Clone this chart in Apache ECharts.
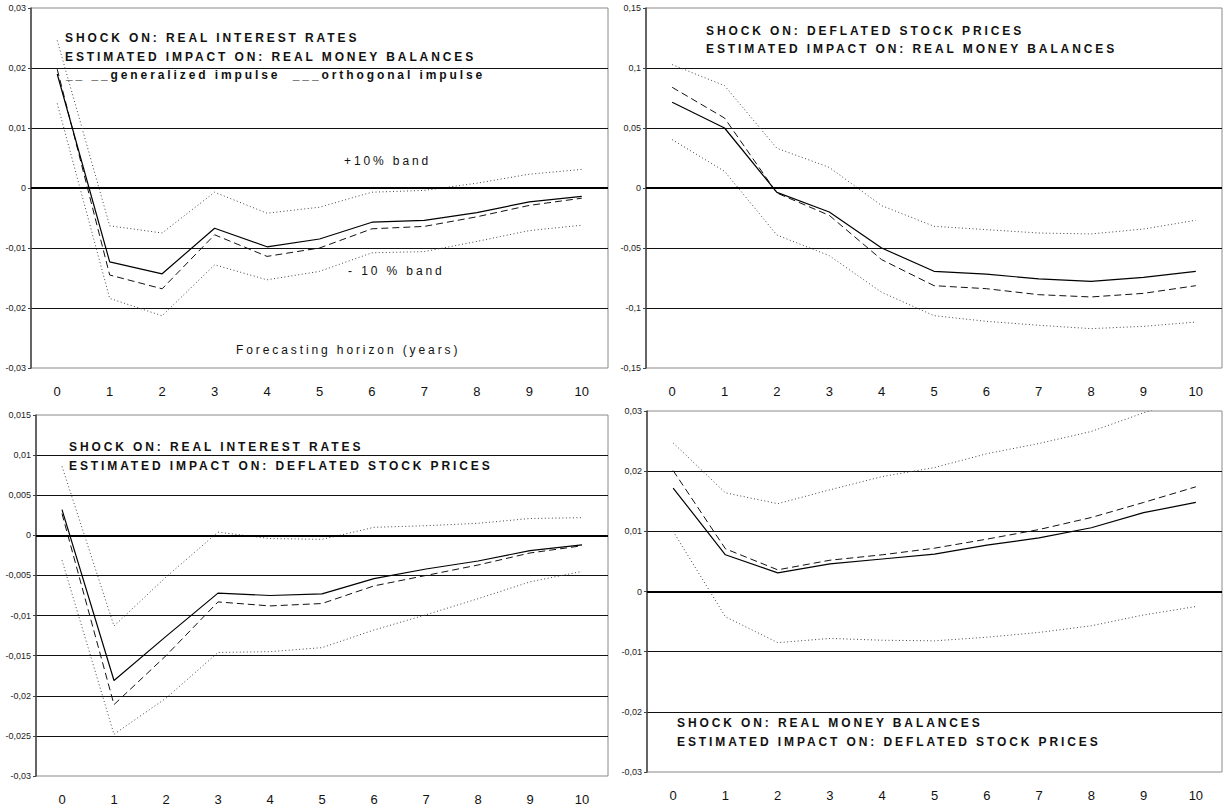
<!DOCTYPE html>
<html>
<head>
<meta charset="utf-8">
<script src="https://cdn.jsdelivr.net/npm/echarts@6/dist/echarts.min.js"></script>
<style>
  html, body { margin: 0; padding: 0; background: #fff; }
  #chart { width: 1223px; height: 810px; }
  #chart svg text[style*="bold"] { letter-spacing: 2.9px; }
  #chart svg text[style*="Liberation"] { letter-spacing: 2.9px; }
</style>
</head>
<body>
<div id="chart"></div>
<script>
// ---- Data ----
const horizons = ['0', '1', '2', '3', '4', '5', '6', '7', '8', '9', '10'];

// Panel 1: shock on real interest rates -> real money balances
const p1Orth = [0.0190, -0.0123, -0.0143, -0.0067, -0.0098, -0.0085, -0.0057, -0.0054, -0.0041, -0.0023, -0.0014];
const p1Gen  = [0.0198, -0.0145, -0.0168, -0.0078, -0.0114, -0.0100, -0.0068, -0.0064, -0.0048, -0.0029, -0.0017];
const p1Up   = [0.0246, -0.0063, -0.0075, -0.0007, -0.0042, -0.0032, -0.0007, -0.0004, 0.0008, 0.0023, 0.0031];
const p1Low  = [0.0141, -0.0184, -0.0213, -0.0128, -0.0153, -0.0139, -0.0108, -0.0106, -0.0089, -0.0071, -0.0062];

// Panel 2: shock on deflated stock prices -> real money balances
const p2Orth = [0.0714, 0.0500, -0.0036, -0.0200, -0.0500, -0.0694, -0.0717, -0.0758, -0.0778, -0.0744, -0.0694];
const p2Gen  = [0.0839, 0.0583, -0.0042, -0.0228, -0.0597, -0.0814, -0.0839, -0.0889, -0.0908, -0.0878, -0.0814];
const p2Up   = [0.1028, 0.0853, 0.0331, 0.0172, -0.0147, -0.0319, -0.0347, -0.0375, -0.0383, -0.0342, -0.0269];
const p2Low  = [0.0403, 0.0139, -0.0392, -0.0564, -0.0869, -0.1064, -0.1111, -0.1144, -0.1172, -0.1153, -0.1117];

// Panel 3: shock on real interest rates -> deflated stock prices
const p3Orth = [0.0032, -0.0181, -0.0126, -0.0072, -0.0075, -0.0073, -0.0054, -0.0042, -0.0032, -0.0019, -0.0012];
const p3Gen  = [0.0027, -0.0211, -0.0150, -0.0083, -0.0088, -0.0085, -0.0063, -0.0050, -0.0037, -0.0022, -0.0013];
const p3Up   = [0.0086, -0.0113, -0.0052, 0.0004, -0.0004, -0.0005, 0.0010, 0.0012, 0.0015, 0.0021, 0.0022];
const p3Low  = [-0.0031, -0.0248, -0.0203, -0.0146, -0.0145, -0.0140, -0.0118, -0.0099, -0.0079, -0.0058, -0.0045];

// Panel 4: shock on real money balances -> deflated stock prices
const p4Orth = [0.0172, 0.0061, 0.0031, 0.0046, 0.0054, 0.0062, 0.0077, 0.0089, 0.0106, 0.0131, 0.0148];
const p4Gen  = [0.0201, 0.0071, 0.0036, 0.0052, 0.0061, 0.0072, 0.0087, 0.0103, 0.0123, 0.0148, 0.0174];
const p4Up   = [0.0247, 0.0164, 0.0146, 0.0169, 0.0191, 0.0206, 0.0229, 0.0246, 0.0266, 0.0297, 0.0325];
const p4Low  = [0.0100, -0.0042, -0.0085, -0.0078, -0.0081, -0.0082, -0.0076, -0.0068, -0.0057, -0.0039, -0.0025];

// Axis ranges
const yMin = [-0.03, -0.15, -0.03, -0.03];
const yMax = [0.03, 0.15, 0.015, 0.03];
const yStep = [0.01, 0.05, 0.005, 0.01];

// Texts
const panelTexts = [
  ['SHOCK ON: REAL INTEREST RATES', 'ESTIMATED IMPACT ON: REAL MONEY BALANCES', '__ __generalized impulse  ___orthogonal impulse'],
  ['SHOCK ON: DEFLATED STOCK PRICES', 'ESTIMATED IMPACT ON: REAL MONEY BALANCES'],
  ['SHOCK ON: REAL INTEREST RATES', 'ESTIMATED IMPACT ON: DEFLATED STOCK PRICES'],
  ['SHOCK ON: REAL MONEY BALANCES', 'ESTIMATED IMPACT ON: DEFLATED STOCK PRICES']
];
const bandUpText = '+10% band';
const bandLowText = '- 10 % band';
const horizonText = 'Forecasting horizon (years)';

// ---- Build chart ----
const panels = [
  [p1Orth, p1Gen, p1Up, p1Low],
  [p2Orth, p2Gen, p2Up, p2Low],
  [p3Orth, p3Gen, p3Up, p3Low],
  [p4Orth, p4Gen, p4Up, p4Low]
];

const gridDefs = [
  { left: 31, top: 8, width: 577, height: 360 },
  { left: 646, top: 8, width: 576, height: 360 },
  { left: 36, top: 415, width: 572, height: 361 },
  { left: 647, top: 411, width: 575, height: 361 }
];

function fmt(v) {
  return String(+v.toFixed(3)).replace('.', ',');
}

const grids = gridDefs.map(g => Object.assign({
  show: true, borderColor: '#8a8a8a', borderWidth: 1, backgroundColor: 'transparent', containLabel: false
}, g));

const xAxes = gridDefs.map((g, i) => ({
  type: 'category', gridIndex: i, data: horizons, boundaryGap: true,
  axisLine: { show: false }, axisTick: { show: false },
  splitLine: { show: false },
  axisLabel: { fontFamily: 'Arial', fontSize: 13, color: '#111', margin: 17 }
}));

const yAxes = gridDefs.map((g, i) => ({
  type: 'value', gridIndex: i, min: yMin[i], max: yMax[i], interval: yStep[i],
  axisLine: { show: true, lineStyle: { color: '#444', width: 1.5 } },
  axisTick: { show: true, length: 3, lineStyle: { color: '#444', width: 1 } },
  axisLabel: { fontFamily: 'Arial', fontSize: 9, color: '#222', margin: 5, formatter: fmt },
  splitLine: { show: true, showMinLine: false, showMaxLine: false, lineStyle: { color: '#111', width: 1 } }
}));

const series = [];
panels.forEach((p, i) => {
  const [orth, gen, up, low] = p;
  const base = { type: 'line', xAxisIndex: i, yAxisIndex: i, symbol: 'none', silent: true, animation: false, clip: true };
  series.push(Object.assign({}, base, { name: 'upper' + i, data: up, lineStyle: { color: '#444', width: 1, type: [1, 2.5] }, z: 3 }));
  series.push(Object.assign({}, base, { name: 'lower' + i, data: low, lineStyle: { color: '#444', width: 1, type: [1, 2.5] }, z: 3 }));
  series.push(Object.assign({}, base, { name: 'gen' + i, data: gen, lineStyle: { color: '#111', width: 1, type: [7, 4] }, z: 4 }));
  series.push(Object.assign({}, base, {
    name: 'orth' + i, data: orth, lineStyle: { color: '#000', width: 1.2, type: 'solid' }, z: 5,
    markLine: {
      silent: true, symbol: ['none', 'none'], label: { show: false },
      lineStyle: { color: '#000', width: 2, type: 'solid' },
      data: [{ yAxis: 0 }], animation: false
    }
  }));
});

const titleFont = 'bold 12px Arial';
const textPos = [
  [[65, 38], [65, 57], [66, 75]],
  [[706, 31], [706, 49]],
  [[69, 447], [69, 466]],
  [[677, 723], [677, 742]]
];
const graphics = [];
panelTexts.forEach((lines, i) => {
  lines.forEach((t, j) => {
    graphics.push({
      type: 'text', x: textPos[i][j][0], y: textPos[i][j][1], z: 100,
      style: { text: t, font: titleFont, fill: '#111', textVerticalAlign: 'middle', textAlign: 'left' }
    });
  });
});
const noteFont = "12px 'Liberation Sans'";
[[bandUpText, 344, 161], [bandLowText, 348, 271], [horizonText, 236, 350]].forEach(([t, x, y]) => {
  graphics.push({
    type: 'text', x: x, y: y, z: 100,
    style: { text: t, font: noteFont, fill: '#111', textVerticalAlign: 'middle', textAlign: 'left' }
  });
});

const chart = echarts.init(document.getElementById('chart'), null, { renderer: 'svg', width: 1223, height: 810 });
chart.setOption({
  animation: false,
  backgroundColor: '#fff',
  grid: grids,
  xAxis: xAxes,
  yAxis: yAxes,
  series: series,
  graphic: graphics
});
</script>
</body>
</html>
